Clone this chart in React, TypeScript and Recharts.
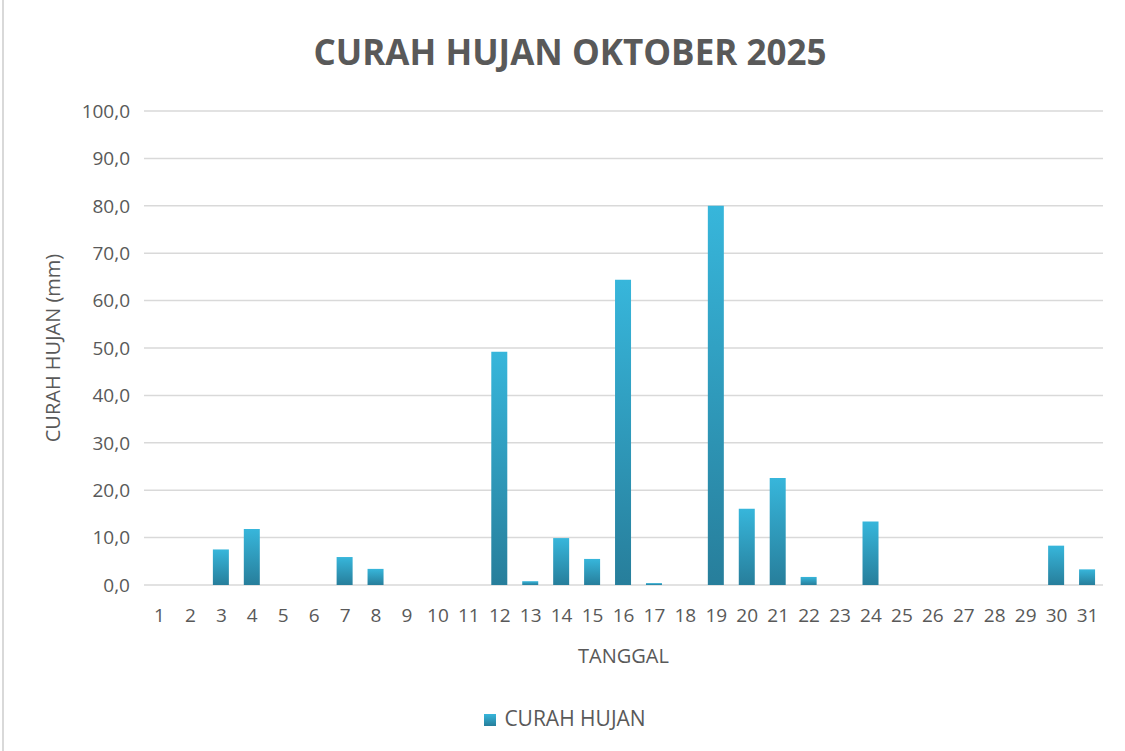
import React from 'react';
import { BarChart, Bar, XAxis, YAxis, CartesianGrid, Legend } from 'recharts';

const days = Array.from({ length: 31 }, (_, i) => String(i + 1));
const rainfall = [
  0, 0, 7.5, 11.8, 0, 0, 5.9, 3.4, 0, 0, 0, 49.2, 0.8, 9.9, 5.5, 64.4,
  0.4, 0, 80.0, 16.1, 22.6, 1.7, 0, 13.4, 0, 0, 0, 0, 0, 8.3, 3.3,
];
const yTicks = [0, 10, 20, 30, 40, 50, 60, 70, 80, 90, 100];

const data = days.map((d, i) => ({ day: d, value: rainfall[i] }));

const FONT = '"Open Sans", sans-serif';
const GRAY = '#595959';

const YLabel = ({ viewBox }: any) => {
  const x = viewBox.x + 12;
  const y = viewBox.y + viewBox.height / 2;
  return (
    <text
      x={x}
      y={y}
      transform={`rotate(-90 ${x} ${y})`}
      textAnchor="middle"
      dominantBaseline="central"
      fill={GRAY}
      fontSize={20}
      fontFamily={FONT}
    >
      CURAH HUJAN (mm)
    </text>
  );
};

const XLabel = ({ viewBox }: any) => (
  <text
    x={viewBox.x + viewBox.width / 2}
    y={viewBox.y + 70}
    textAnchor="middle"
    dominantBaseline="central"
    fill={GRAY}
    fontSize={20}
    fontFamily={FONT}
  >
    TANGGAL
  </text>
);

const App = () => {
  return (
    <div style={{ position: 'absolute', left: 0, top: 0, width: 1125, height: 751, background: '#fff' }}>
      <div style={{ position: 'absolute', left: 2, top: 0, width: 2, height: 751, background: '#d9d9d9' }} />
      <div
        style={{
          position: 'absolute',
          top: 28,
          left: 0,
          width: 1140,
          textAlign: 'center',
          fontFamily: FONT,
          fontWeight: 700,
          fontSize: 35,
          color: GRAY,
          lineHeight: '48px',
        }}
      >
        CURAH HUJAN OKTOBER 2025
      </div>
      <BarChart
        width={1125}
        height={751}
        data={data}
        margin={{ top: 111, right: 22, left: 40, bottom: 46 }}
        barCategoryGap={0}
      >
        <defs>
          <linearGradient id="barGrad" x1="0" y1="0" x2="0" y2="1">
            <stop offset="0%" stopColor="#37B6DB" />
            <stop offset="100%" stopColor="#277E9B" />
          </linearGradient>
        </defs>
        <CartesianGrid vertical={false} stroke="#d9d9d9" strokeWidth={1.5} />
        <XAxis
          dataKey="day"
          axisLine={false}
          tickLine={false}
          tickSize={0}
          tickMargin={24}
          interval={0}
          height={90}
          tick={{ fill: GRAY, fontSize: 19, fontFamily: FONT }}
          label={<XLabel />}
        />
        <YAxis
          domain={[0, 100]}
          ticks={yTicks}
          axisLine={false}
          tickLine={false}
          tickSize={0}
          tickMargin={14}
          width={104}
          tickFormatter={(v: number) => v.toFixed(1).replace('.', ',')}
          tick={{ fill: GRAY, fontSize: 19, fontFamily: FONT }}
          label={<YLabel />}
        />
        <Legend
          verticalAlign="bottom"
          iconType="square"
          iconSize={12}
          wrapperStyle={{
            position: 'absolute',
            left: 0,
            width: 1140,
            top: 704,
            height: 30,
            fontFamily: FONT,
            fontSize: 21,
          }}
          formatter={(v: string) => <span style={{ color: GRAY, marginLeft: 4 }}>{v}</span>}
        />
        <Bar
          dataKey="value"
          name="CURAH HUJAN"
          fill="url(#barGrad)"
          barSize={16}
          isAnimationActive={false}
        />
      </BarChart>
    </div>
  );
};

export default App;
